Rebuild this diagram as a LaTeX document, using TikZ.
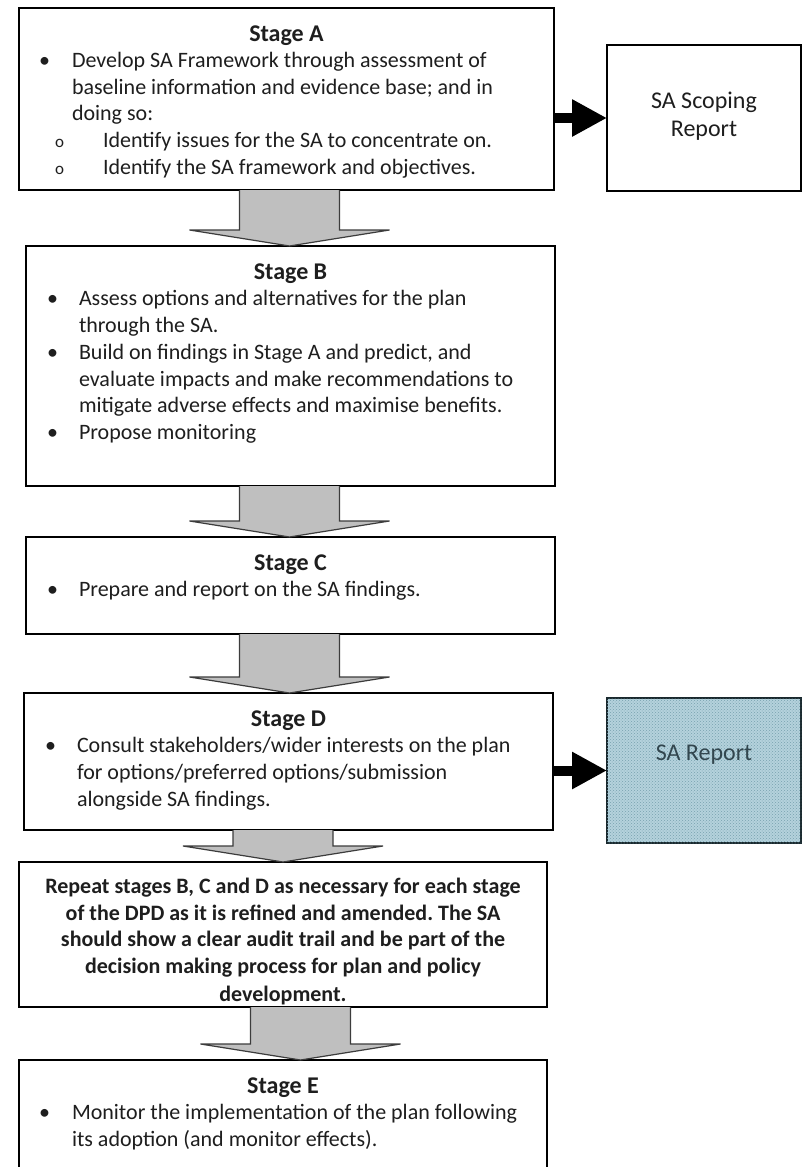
\documentclass[tikz,border=0pt]{standalone}
\usepackage{fontspec}
\setmainfont{Carlito}
\frenchspacing
\usetikzlibrary{calc,patterns,arrows.meta}
\definecolor{garfill}{RGB}{191,191,191}
\definecolor{garline}{RGB}{60,60,60}
\definecolor{rptfill}{RGB}{180,210,220}
\definecolor{rptdot}{RGB}{120,160,174}
\definecolor{rpttext}{RGB}{50,70,78}
\definecolor{rptline}{RGB}{25,40,45}
\definecolor{ink}{RGB}{30,30,30}
\newcommand{\garr}[3]{%
  \filldraw[garrow] let \p1=(#1.south), \p2=(#2.north) in
   ({#3pt-50pt},\y1) -- ({#3pt-50pt},\y2+16pt) -- ({#3pt-100pt},\y2+16pt) -- ({#3pt},\y2)
   -- ({#3pt+100pt},\y2+16pt) -- ({#3pt+50pt},\y2+16pt) -- ({#3pt+50pt},\y1);}
\newcommand{\tl}[4]{\node[txt, anchor=base west] (#1) at (#2,#3) {#4};}
\newcommand{\tc}[4]{\node[txt, anchor=base] (#1) at (#2,#3) {#4};}
\newcommand{\ttl}[4]{\node[ttxt, anchor=base] (#1) at (#2,#3) {#4};}
\begin{document}
\begin{tikzpicture}[x=1pt,y=-1pt,
  box/.style={draw=black, line width=1.4pt, fill=white, anchor=north west, inner sep=0pt, outer sep=0pt},
  rbox/.style={draw=rptline, line width=2pt, fill=rptfill, anchor=north west, inner sep=0pt, outer sep=0pt,
     postaction={pattern=crosshatch dots, pattern color=rptdot}},
  txt/.style={font=\fontsize{22}{26.8}\selectfont, text=ink, inner sep=0pt, outer sep=0pt},
  ttxt/.style={font=\fontsize{24}{29}\selectfont, text=ink, inner sep=0pt, outer sep=0pt},
  otxt/.style={font=\fontsize{17}{20}\selectfont, text=ink, inner sep=0pt, outer sep=0pt},
  garrow/.style={fill=garfill, draw=garline, line width=1.2pt, line join=miter},
  barrow/.style={draw=black, line width=10pt, -{Triangle[length=35pt,width=35pt]}}]
\useasboundingbox (0,0) rectangle (802,1167);
\clip (0,0) rectangle (802,1167);
% boxes
\node[box, minimum width=535pt, minimum height=182pt] (A) at (19,8) {};
\node[box, minimum width=194pt, minimum height=146pt] (S) at (607,45) {};
\node[box, minimum width=529pt, minimum height=240pt] (B) at (26,246) {};
\node[box, minimum width=529pt, minimum height=97pt] (C) at (26,537) {};
\node[box, minimum width=529pt, minimum height=137pt] (D) at (24,693) {};
\node[rbox, minimum width=194pt, minimum height=145pt] (R) at (607,698) {};
\node[box, minimum width=528pt, minimum height=145pt] (P) at (19,862) {};
\node[box, minimum width=528pt, minimum height=140pt] (E) at (19,1060) {};
% connectors
\draw[barrow] (A.east |- S.west) -- (S.west);
\draw[barrow] (D.east |- R.west) -- (R.west);
\garr{A}{B}{289.5}
\garr{B}{C}{289.5}
\garr{C}{D}{289.5}
\garr{D}{P}{283}
\garr{P}{E}{300.5}
% Stage A
\ttl{At}{286.5}{41}{\textbf{Stage A}}
\tl{Ab1}{39}{67}{•}
\tl{A1}{72}{67}{Develop SA Framework through assessment of}
\tl{A2}{72}{94}{baseline information and evidence base; and in}
\tl{A3}{72}{120}{doing so:}
\node[otxt, anchor=base west] (Ao1) at (55,147) {o};
\tl{A4}{103}{147}{Identify issues for the SA to concentrate on.}
\node[otxt, anchor=base west] (Ao2) at (55,174) {o};
\tl{A5}{103}{174}{Identify the SA framework and objectives.}
% Scoping
\ttl{S1}{704}{108}{SA Scoping}
\ttl{S2}{704}{136}{Report}
% Stage B
\ttl{Bt}{290.5}{279}{\textbf{Stage B}}
\tl{Bb1}{47}{305}{•}
\tl{B1}{79}{305}{Assess options and alternatives for the plan}
\tl{B2}{79}{332}{through the SA.}
\tl{Bb2}{47}{359}{•}
\tl{B3}{79}{359}{Build on findings in Stage A and predict, and}
\tl{B4}{79}{386}{evaluate impacts and make recommendations to}
\tl{B5}{79}{412}{mitigate adverse effects and maximise benefits.}
\tl{Bb3}{47}{439}{•}
\tl{B6}{79}{439}{Propose monitoring}
% Stage C
\ttl{Ct}{290.5}{570}{\textbf{Stage C}}
\tl{Cb1}{47}{596}{•}
\tl{C1}{79}{596}{Prepare and report on the SA findings.}
% Stage D
\ttl{Dt}{288.5}{726}{\textbf{Stage D}}
\tl{Db1}{45}{752}{•}
\tl{D1}{77}{752}{Consult stakeholders/wider interests on the plan}
\tl{D2}{77}{779}{for options/preferred options/submission}
\tl{D3}{77}{806}{alongside SA findings.}
% SA Report
\node[ttxt, anchor=base, text=rpttext] (R1) at (704,760) {SA Report};
% Repeat
\tc{P1}{283}{893}{\textbf{Repeat stages B, C and D as necessary for each stage}}
\tc{P2}{283}{920}{\textbf{of the DPD as it is refined and amended. The SA}}
\tc{P3}{283}{946}{\textbf{should show a clear audit trail and be part of the}}
\tc{P4}{283}{973}{\textbf{decision making process for plan and policy}}
\tc{P5}{283}{1001}{\textbf{development.}}
% Stage E
\ttl{Et}{283}{1093}{\textbf{Stage E}}
\tl{Eb1}{39}{1119}{•}
\tl{E1}{72}{1119}{Monitor the implementation of the plan following}
\tl{E2}{72}{1146}{its adoption (and monitor effects).}
\end{tikzpicture}
\end{document}
